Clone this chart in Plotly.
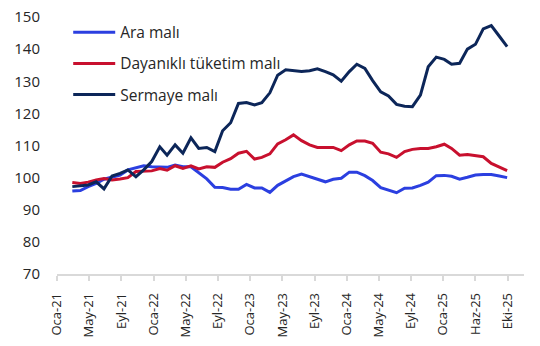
import datetime as dt
import pandas as pd
import plotly.graph_objects as go

# Monthly observations, Mar-2021 .. Oct-2025
months = pd.date_range("2021-03-01", "2025-10-01", freq="MS")

ara_mali = [
    95.8, 96.0, 97.2, 98.2, 99.5, 100.1, 100.8, 102.4, 103.1, 103.7,
    103.4, 103.2, 103.2, 103.9, 103.4, 103.4, 101.5, 99.6, 97.0, 96.9,
    96.4, 96.4, 97.9, 96.8, 96.8, 95.4, 97.6, 99.0, 100.3, 101.1,
    100.3, 99.6, 98.7, 99.5, 99.8, 101.7, 101.7, 100.6, 99.1, 96.9,
    96.1, 95.3, 96.7, 96.8, 97.6, 98.6, 100.6, 100.7, 100.4, 99.5,
    100.1, 100.8, 101.0, 101.0, 100.5, 100.0,
]
dayanikli = [
    98.5, 98.2, 98.6, 99.3, 99.7, 99.3, 99.6, 100.0, 101.9, 102.1,
    102.1, 102.8, 102.3, 103.7, 102.9, 103.7, 102.7, 103.4, 103.2, 104.8,
    105.9, 107.6, 108.2, 105.8, 106.3, 107.4, 110.5, 111.8, 113.3, 111.5,
    110.2, 109.4, 109.4, 109.4, 108.4, 110.2, 111.4, 111.4, 110.7, 107.9,
    107.4, 106.3, 108.1, 108.8, 109.1, 109.1, 109.6, 110.4, 109.1, 107.0,
    107.2, 106.9, 106.5, 104.4, 103.4, 102.2,
]
sermaye = [
    97.2, 97.4, 97.7, 98.7, 96.5, 100.5, 101.3, 102.4, 100.3, 102.4,
    105.0, 109.6, 107.0, 110.2, 107.6, 112.4, 109.1, 109.4, 108.1, 114.6,
    117.1, 123.1, 123.4, 122.6, 123.3, 126.4, 131.9, 133.6, 133.2, 133.0,
    133.3, 133.9, 133.0, 132.0, 130.0, 133.0, 135.3, 134.0, 130.2, 126.7,
    125.4, 122.8, 122.2, 122.1, 125.7, 134.5, 137.5, 136.8, 135.3, 135.6,
    140.0, 141.5, 146.3, 147.3, 144.0, 140.8,
]

series_names = ["Ara malı", "Dayanıklı tüketim malı", "Sermaye malı"]
series_colors = ["#2b3fe0", "#c8102e", "#0c2659"]

tick_labels = ["Oca-21", "May-21", "Eyl-21", "Oca-22", "May-22", "Eyl-22",
               "Oca-23", "May-23", "Eyl-23", "Oca-24", "May-24", "Eyl-24",
               "Oca-25", "Haz-25", "Eki-25"]
y_ticks = [70, 80, 90, 100, 110, 120, 130, 140, 150]

# date axis with a fixed major unit (in days), as in the source chart
axis_start = dt.date(2021, 1, 1)
major_unit_days = 124
tick_dates = [axis_start + dt.timedelta(days=major_unit_days * k) for k in range(len(tick_labels))]

FONT = "Open Sans, Noto Sans, sans-serif"

fig = go.Figure()
for name, vals, col in zip(series_names, [ara_mali, dayanikli, sermaye], series_colors):
    fig.add_trace(go.Scatter(
        x=months, y=vals, name=name, mode="lines",
        line=dict(color=col, width=3),
        legendgroup=name,
    ))

fig.update_layout(
    width=540, height=346,
    margin=dict(l=57, r=16, t=17, b=72),
    paper_bgcolor="white", plot_bgcolor="white",
    font=dict(family=FONT, size=14, color="#262626"),
    showlegend=True,
    legend=dict(
        x=0.024, y=1.005, xanchor="left", yanchor="top",
        bgcolor="rgba(0,0,0,0)", font=dict(size=15.5, color="#262626"),
        tracegroupgap=8, itemwidth=42,
    ),
)
fig.update_xaxes(
    type="date",
    range=[axis_start, dt.date(2025, 12, 5)],
    tickmode="array", tickvals=tick_dates, ticktext=tick_labels,
    tickangle=-90, tickfont=dict(size=13, color="#262626"),
    ticklabelstandoff=7,
    showgrid=False, showline=True, linecolor="#d9d9d9", linewidth=1.5,
    ticks="outside", ticklen=5, tickcolor="#d9d9d9", tickwidth=1.5,
    zeroline=False, automargin=False,
)
fig.update_yaxes(
    range=[70, 150], tickmode="array", tickvals=y_ticks,
    tickfont=dict(size=15, color="#262626"),
    showgrid=False, showline=False, zeroline=False,
    ticklabelstandoff=16, automargin=False,
)

fig.write_html("out.html")
